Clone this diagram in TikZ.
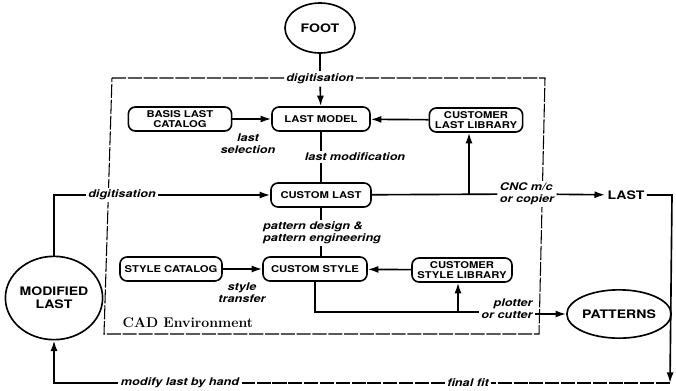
\documentclass[tikz,border=0pt]{standalone}
\usepackage{fontspec}
\newfontfamily\boxfont[FakeStretch=1.2]{TeX Gyre Heros}
\usetikzlibrary{arrows.meta,shapes.geometric}

\begin{document}
\begin{tikzpicture}[x=0.03cm,y=-0.03cm,
    >={Latex[length=9pt,width=6pt]},
    line width=1.4pt]

  \useasboundingbox (0,0) rectangle (676,390);

  % CAD environment frame
  \draw[line width=0.9pt,dash pattern=on 12pt off 1.5pt]
    (112,78) -- (545,78) -- (539,334) -- (104,334) -- cycle;
  \node[anchor=west,font=\bfseries\fontsize{12}{14}\selectfont] (cad) at (118,323) {CAD Environment};

  \begin{scope}[every node/.style={draw,ellipse,line width=1.4pt,inner sep=0pt,align=center,
      font=\boxfont\bfseries\fontsize{10}{11}\selectfont}]
    \node[minimum width=2.1cm,minimum height=1.5cm] (foot) at (320,28) {FOOT};
    \node[minimum width=2.76cm,minimum height=2.5cm] (modlast) at (54,298) {MODIFIED\\LAST};
    \node[minimum width=2.8cm,minimum height=1.45cm] (patterns) at (619,314) {PATTERNS};
  \end{scope}

  \begin{scope}[every node/.style={draw,rounded corners=6pt,line width=1.4pt,align=center,
      inner sep=1pt,minimum height=0.72cm,font=\boxfont\bfseries\fontsize{8}{8.5}\selectfont}]
    \node[minimum width=2.94cm] (lastmodel) at (321,119) {LAST MODEL};
    \node[minimum width=3.1cm] (basis) at (180,119) {BASIS LAST\\CATALOG};
    \node[minimum width=2.8cm] (custlib) at (476,120) {CUSTOMER\\LAST LIBRARY};
    \node[minimum width=3cm] (customlast) at (321,195) {CUSTOM LAST};
    \node[minimum width=3.06cm] (stylecat) at (171,269) {STYLE CATALOG};
    \node[minimum width=3.12cm] (customstyle) at (315,269) {CUSTOM STYLE};
    \node[minimum width=3cm] (stylelib) at (462,270) {CUSTOMER\\STYLE LIBRARY};
  \end{scope}

  % lines running behind labels
  \draw (lastmodel) -- (customlast);
  \draw (customlast.south) -- (customlast.south |- customstyle.north);

  \begin{scope}[every node/.style={fill=white,inner sep=1.5pt,align=center,
      font=\boxfont\bfseries\itshape\fontsize{9}{10}\selectfont}]
    \node (digtop) at (320,79) {digitisation};
    \node (digleft) at (122,195) {digitisation};
    \node (lastsel) at (248,144) {last\\selection};
    \node (lastmod) at (355,157) {last modification};
    \node[align=left] (patdes) at (322,233) {pattern design \&\\pattern engineering};
    \node[align=left] (cnc) at (527,194) {CNC m/c\\or copier};
    \node (transfer) at (242,293) {style\\transfer};
    \node[align=right] (plotter) at (507,309) {plotter\\or cutter};
    \node (finalfit) at (468,383) {final fit};
    \node (byhand) at (180,383) {modify last by hand};
    \node[font=\boxfont\bfseries\fontsize{10}{11}\selectfont] (last) at (626,195) {LAST};
  \end{scope}

  \coordinate (jlast) at (469,195);
  \coordinate (jstyle) at (458,312);
  \coordinate (ne) at (672,195);
  \coordinate (se) at (670,383);

  % connectors
  \draw (foot) -- (digtop);
  \draw[->] (digtop) -- (lastmodel);
  \draw[->] (basis) -- (lastmodel);
  \draw[->] (custlib) -- (lastmodel);
  \draw (modlast) |- (digleft);
  \draw[->] (digleft) -- (customlast);
  \draw (customlast) -- (cnc);
  \draw[->] (jlast) -- (jlast |- custlib.south);
  \draw[->] (cnc) -- (last);
  \draw[->] (last) -- (ne) -- (se);
  \draw[dash pattern=on 12pt off 1.5pt] (se) -- (finalfit) (finalfit) -- (byhand);
  \draw[->] (byhand) -| (modlast);
  \draw[->] (stylecat) -- (customstyle);
  \draw[->] (stylelib) -- (customstyle);
  \draw (customstyle) |- (jstyle) -- (plotter.west |- jstyle);
  \draw[->] (jstyle) -- (jstyle |- stylelib.south);
  \draw[->] (plotter.east |- patterns) -- (patterns);

\end{tikzpicture}
\end{document}
